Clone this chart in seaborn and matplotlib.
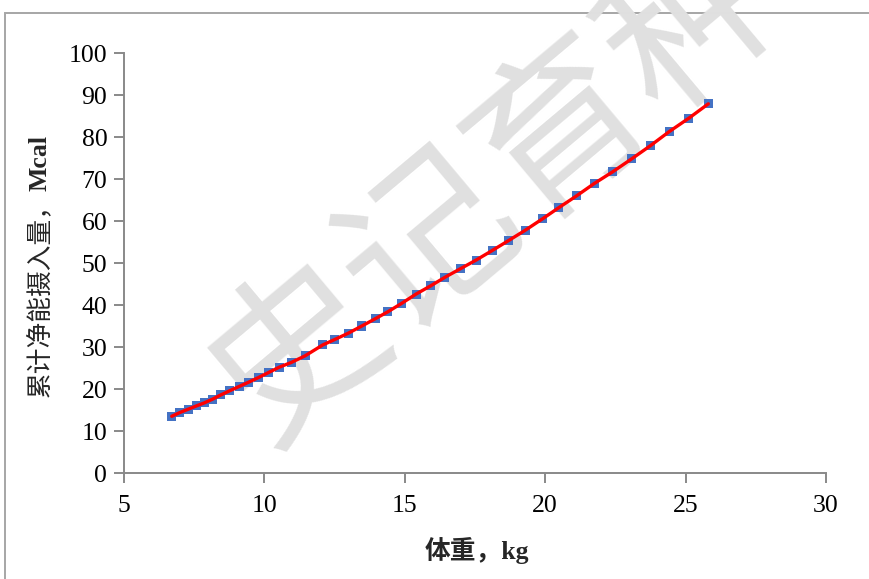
import matplotlib
matplotlib.use("Agg")
import matplotlib.pyplot as plt
import seaborn as sns
import pandas as pd
from matplotlib.patches import Rectangle

# Body weight (kg) and cumulative net energy intake (Mcal)
weight_kg = [6.70, 6.99, 7.29, 7.59, 7.86, 8.16, 8.45, 8.77, 9.10, 9.43,
             9.78, 10.14, 10.53, 10.95, 11.45, 12.08, 12.51, 12.99, 13.47, 13.94,
             14.40, 14.89, 15.40, 15.93, 16.43, 16.97, 17.54, 18.12, 18.71, 19.29,
             19.90, 20.49, 21.12, 21.74, 22.40, 23.08, 23.74, 24.42, 25.12, 25.81]
cum_ne_mcal = [13.5, 14.4, 15.2, 16.0, 16.7, 17.6, 18.6, 19.6, 20.6, 21.6,
               22.7, 23.9, 25.2, 26.3, 27.9, 30.5, 31.8, 33.3, 35.0, 36.7,
               38.4, 40.4, 42.6, 44.6, 46.6, 48.6, 50.7, 53.0, 55.4, 57.8,
               60.5, 63.2, 66.0, 68.9, 71.7, 74.8, 77.9, 81.3, 84.5, 87.9]

x_ticks = [5, 10, 15, 20, 25, 30]
y_ticks = [0, 10, 20, 30, 40, 50, 60, 70, 80, 90, 100]

df = pd.DataFrame({"weight": weight_kg, "ne": cum_ne_mcal})

sns.set_theme(style="white")
plt.rcParams["font.family"] = ["Liberation Serif", "Noto Sans CJK SC"]

fig = plt.figure(figsize=(8.7, 5.79), dpi=100)
ax = fig.add_axes([124 / 870, 1 - 473 / 579, (826 - 124) / 870, (473 - 53) / 579])
ax.patch.set_visible(False)

# Outer frame
fig.patches.append(Rectangle((5 / 870, -0.2), 1.2, 1.2 - 13 / 579,
                             transform=fig.transFigure, fill=False,
                             edgecolor="#a6a6a6", linewidth=1.4, zorder=-2))

# Watermark
fig.text(0.572, 0.675, "史记育种", fontsize=124, color="#e0e0e0",
         family=["Noto Sans CJK SC"], fontweight="medium", rotation=40,
         ha="center", va="center", zorder=-1)

sns.scatterplot(data=df, x="weight", y="ne", marker="s", s=42,
                color="#4472C4", edgecolor="none", ax=ax, zorder=3, legend=False)
sns.lineplot(data=df, x="weight", y="ne", color="#FF0000", linewidth=2.4,
             ax=ax, zorder=4, legend=False)

ax.set_xlim(5, 30)
ax.set_ylim(0, 100)
ax.set_xticks(x_ticks)
ax.set_yticks(y_ticks)
ax.set_xticklabels([str(t) for t in x_ticks])
ax.set_yticklabels([str(t) for t in y_ticks])

for side in ("top", "right"):
    ax.spines[side].set_visible(False)
for side in ("left", "bottom"):
    ax.spines[side].set_color("#898989")
    ax.spines[side].set_linewidth(1.4)

ax.tick_params(axis="both", which="major", direction="out", length=7,
               width=1.4, color="#898989", labelsize=18.5, labelcolor="black",
               left=True, bottom=True)
ax.tick_params(axis="y", pad=5)
ax.tick_params(axis="x", pad=9)

ax.set_xlabel("")
ax.set_ylabel("")

# X axis title
fig.text(477 / 870, 1 - 550 / 579, "体重，kg", fontsize=18.5,
         fontweight="bold", ha="center", va="center")

# Y axis title: Chinese part regular, unit bold
t1 = fig.text(40 / 870, 1 - 397 / 579, "累计净能摄入量，", fontsize=18.5,
              rotation=90, ha="center", va="bottom")
ax.annotate("Mcal", xy=(0.5, 1.0), xycoords=t1, fontsize=18.5, fontweight="bold",
            rotation=90, ha="center", va="bottom")

fig.savefig("out.png", dpi=100)
